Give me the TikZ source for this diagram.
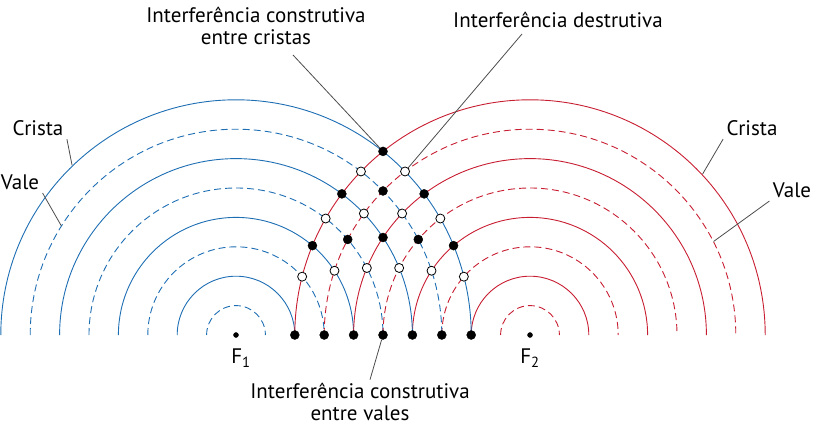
\documentclass[tikz,border=0pt]{standalone}
\usepackage{fontspec}
\setmainfont{PT Sans}
\begin{document}
\begin{tikzpicture}[x=1pt,y=-1pt,
   font=\fontsize{21}{22}\selectfont,
   wave/.style={line width=0.9pt},
   blue wave/.style={wave,draw={rgb,255:red,30;green,110;blue,180}},
   red wave/.style={wave,draw={rgb,255:red,200;green,30;blue,50}},
   vale/.style={dash pattern=on 7pt off 4pt},
   full/.style={fill=black,draw=black,circle,inner sep=0pt,minimum size=9pt},
   empty/.style={fill=white,draw=black,thick,circle,inner sep=0pt,minimum size=9pt},
   pin/.style={draw=black!70,line width=0.8pt}]
\useasboundingbox (0,0) rectangle (818,436);
\def\s{29.4}
\coordinate (F1) at (236,335);
\coordinate (F2) at (530,335);
% the two wave fronts
\foreach \k in {1,...,8}{
  \pgfmathsetmacro{\r}{\k*\s}
  \ifodd\k \def\ls{vale}\else\def\ls{solid}\fi
  \draw[blue wave,\ls] (F1) ++(-\r,0) arc[start angle=180,end angle=0,radius=\r pt];
  \draw[red wave,\ls] (F2) ++(-\r,0) arc[start angle=180,end angle=0,radius=\r pt];
}
% crossings
\foreach \a in {2,...,8}{
  \foreach \b in {2,...,8}{
    \pgfmathtruncatemacro{\sum}{\a+\b}
    \ifnum\sum>9
      \pgfmathsetmacro{\u}{(\a*\a-\b*\b)/20+5}
      \pgfmathsetmacro{\dx}{\s*\u}
      \pgfmathsetmacro{\hh}{\s*sqrt(max(0,\a*\a-\u*\u))}
      \ifodd\sum
        \node[empty] (d-\a-\b) at ([shift={(\dx,-\hh)}]F1) {};
      \else
        \node[full] (d-\a-\b) at ([shift={(\dx,-\hh)}]F1) {};
      \fi
    \fi
  }
}
\node[full,minimum size=5pt] (s1) at (F1) {};
\node[full,minimum size=5pt] (s2) at (F2) {};
\node (f1) at (241,358) {F\textsubscript{1}};
\node (f2) at (530,358) {F\textsubscript{2}};
% labels
\node (cl) at (38,128) {Crista};
\node (vl) at (20,182) {Vale};
\node (cr) at (752,128) {Crista};
\node (vr) at (792,190) {Vale};
\node[align=center] (ic) at (256,26) {Interferência construtiva\\entre cristas};
\node (id) at (558,20) {Interferência destrutiva};
\node[align=center] (iv) at (360,402) {Interferência construtiva\\entre vales};
\draw[pin] (cl.south east) -- ([shift={(134:236pt)}]F1);
\draw[pin] (vl.south east) -- ([shift={(148:206pt)}]F1);
\draw[pin] (cr.south west) -- ([shift={(43:236pt)}]F2);
\draw[pin] (vr.south west) -- ([shift={(27:206pt)}]F2);
\draw[pin] (293,55) -- (d-8-8);
\draw[pin] (522,34) -- (d-8-7);
\draw[pin] (iv.north) ++(10,0) -- (d-5-5);
\end{tikzpicture}
\end{document}
